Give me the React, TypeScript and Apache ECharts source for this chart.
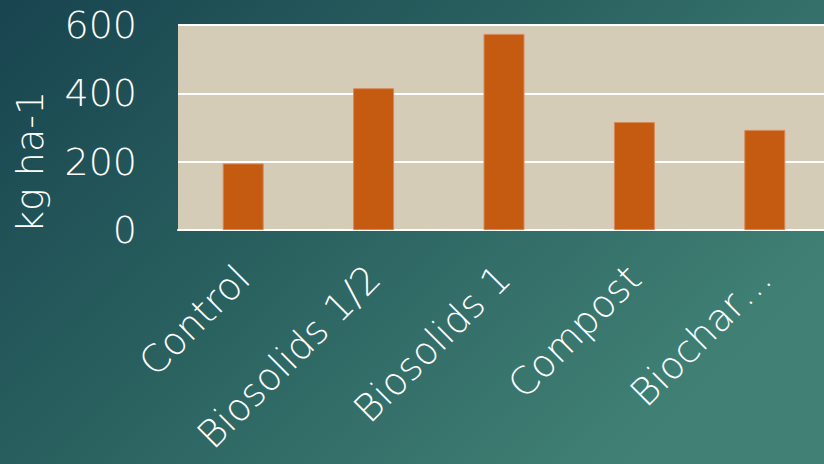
import React, { useEffect, useRef } from "react";
import * as echarts from "echarts";

const categories = ["Control", "Biosolids 1/2", "Biosolids 1", "Compost", "Biochar…"];
const values = [195, 415, 574, 316, 293];
const yTicks = { min: 0, max: 600, interval: 200 };
const yAxisName = "kg ha-1";

export default function App() {
  const ref = useRef<HTMLDivElement>(null);
  useEffect(() => {
    document.body.style.margin = "0";
    const chart = echarts.init(ref.current!, null, { renderer: "svg" });
    const font = "'DejaVu Sans', sans-serif";
    chart.setOption({
      animation: false,
      backgroundColor: new echarts.graphic.LinearGradient(0, 0, 1, 0.6, [
        { offset: 0, color: "#18444f" },
        { offset: 0.5, color: "#2a6260" },
        { offset: 1, color: "#418175" },
      ]),
      grid: {
        left: 178, top: 25, width: 652, height: 205,
        containLabel: false, outerBoundsMode: "none",
        backgroundColor: "#d5ccb8", show: true, borderWidth: 0,
      },
      graphic: [
        {
          type: "text",
          x: 30,
          y: 162,
          rotation: Math.PI / 2,
          style: {
            text: yAxisName,
            fill: "#ffffff",
            fontSize: 38,
            fontFamily: font,
            fontWeight: 200,
            align: "center",
            verticalAlign: "middle",
          },
        },
      ],
      xAxis: {
        type: "category",
        data: categories,
        axisLine: { show: true, lineStyle: { color: "#ffffff", width: 2 } },
        axisTick: { show: false },
        axisLabel: { interval: 0, rotate: 45, color: "#ffffff", fontSize: 38, fontFamily: font, fontWeight: 200, margin: 42 },
      },
      yAxis: {
        type: "value",
        min: yTicks.min,
        max: yTicks.max,
        interval: yTicks.interval,
        axisLine: { show: false },
        axisTick: { show: false },
        axisLabel: { color: "#ffffff", fontSize: 38, fontFamily: font, fontWeight: 200, margin: 41 },
        splitLine: { lineStyle: { color: "#ffffff", width: 2 } },
      },
      series: [
        {
          type: "bar",
          data: values,
          barWidth: 41,
          itemStyle: { color: "#c55a11", borderColor: "#d98a5a", borderWidth: 1 },
        },
      ],
    });
    return () => chart.dispose();
  }, []);
  return <div ref={ref} style={{ width: 824, height: 464 }} />;
}
